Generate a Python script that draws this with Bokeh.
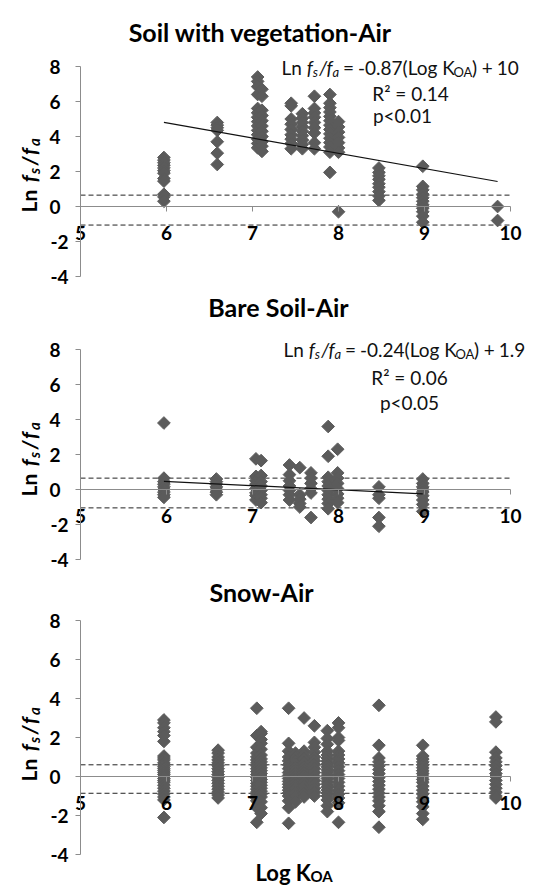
import math
from bokeh.plotting import figure
from bokeh.layouts import column
from bokeh.models import Range1d, Label, FixedTicker, CustomJSTickFormatter
from bokeh.core.properties import value
from bokeh.embed import file_html
from bokeh.resources import INLINE

# ---------------- data ----------------
x_ticks = [5, 6, 7, 8, 9, 10]
y_ticks = [-4, -2, 0, 2, 4, 6, 8]

titles = ["Soil with vegetation-Air", "Bare Soil-Air", "Snow-Air"]

# Soil with vegetation - Air
veg_x = [5.97, 6.59, 7.06, 7.11, 7.45, 7.58, 7.72, 7.90, 8.00, 8.47, 8.98, 9.85]
veg_y = [
    [2.8, 2.65, 2.5, 2.35, 2.2, 2.05, 1.9, 1.6, 1.45, 0.7, 0.55, 0.3],
    [4.8, 4.65, 4.5, 4.35, 3.7, 3.05, 2.4],
    [7.4, 7.15, 6.85, 6.4, 5.6, 5.35, 5.1, 4.85, 4.6, 4.35, 4.1, 3.85, 3.6, 3.35],
    [6.7, 6.3, 5.5, 5.2, 4.9, 4.6, 4.3, 4.0, 3.7, 3.45, 3.15],
    [5.9, 5.75, 5.0, 4.7, 4.4, 4.1, 3.85, 3.6, 3.3],
    [5.3, 5.05, 4.8, 4.55, 4.3, 4.05, 3.8, 3.55, 3.3],
    [6.3, 5.6, 5.35, 5.1, 4.8, 4.5, 4.2, 3.65, 3.3],
    [6.4, 5.9, 5.65, 5.4, 5.15, 4.9, 4.65, 4.4, 4.15, 3.9, 3.65, 3.4, 3.1, 1.95],
    [4.85, 4.55, 4.25, 3.95, 3.65, 3.35, 3.1, -0.3],
    [2.2, 1.95, 1.75, 1.55, 1.3, 1.1, 0.85, 0.6, 0.35],
    [2.3, 1.15, 0.95, 0.7, 0.5, 0.3, 0.1, -0.1, -0.3, -0.55, -0.9],
    [0.0, -0.8],
]

# Bare soil - Air
bare_x = [5.97, 6.58, 7.04, 7.10, 7.43, 7.55, 7.68, 7.88, 7.99, 8.47, 8.98]
bare_y = [
    [3.8, 0.65, 0.45, 0.3, 0.15, 0.0, -0.15, -0.3, -0.45],
    [0.6, 0.45, 0.3, 0.15, 0.0, -0.15, -0.3],
    [1.75, 0.75, 0.5, 0.3, 0.05, -0.2, -0.35, -0.6],
    [1.65, 0.8, 0.45, 0.2, -0.05, -0.3, -0.5, -0.75],
    [1.4, 0.85, 0.5, 0.2, -0.05, -0.3, -0.6],
    [1.25, -0.3, -0.55, -0.8, -1.0],
    [0.95, 0.65, 0.35, 0.05, -0.2, -1.6],
    [3.6, 1.9, 0.7, 0.45, 0.2, -0.05, -0.3, -0.55, -0.8, -1.1],
    [2.3, 0.95, 0.65, 0.35, 0.05, -0.25, -0.5, -0.75],
    [0.15, -0.3, -0.5, -1.6, -2.1],
    [0.6, 0.35, 0.15, 0.0, -0.15, -0.35, -0.6, -0.85, -1.25],
]

# Snow - Air
snow_x = [5.97, 6.60, 7.05, 7.10, 7.42, 7.50, 7.60, 7.72, 7.87, 8.00, 8.47, 8.98, 9.83]
snow_y = [
    [2.9, 2.75, 2.5, 2.3, 2.1, 1.8, 1.05, 0.95, 0.85, 0.7, 0.6, 0.5, 0.4, 0.3, 0.2, 0.1, 0.0,
     -0.1, -0.2, -0.3, -0.45, -0.6, -0.75, -0.9, -1.05, -1.2, -2.1],
    [1.35, 1.2, 1.0, 0.85, 0.7, 0.55, 0.4, 0.25, 0.1, -0.05, -0.2, -0.35, -0.5, -0.65, -0.8, -0.95, -1.1],
    [3.5, 2.1, 1.5, 1.2, 1.0, 0.85, 0.7, 0.55, 0.4, 0.25, 0.1, -0.05, -0.2, -0.35, -0.5, -0.65,
     -0.8, -0.95, -1.1, -1.25, -1.6, -2.35],
    [2.3, 2.2, 1.9, 1.7, 1.4, 1.1, 0.9, 0.75, 0.6, 0.45, 0.3, 0.15, 0.0, -0.15, -0.3, -0.45,
     -0.6, -0.75, -0.9, -1.05, -1.3, -1.6, -1.9],
    [3.5, 1.7, 1.3, 1.0, 0.8, 0.6, 0.4, 0.2, 0.05, -0.1, -0.25, -0.4, -0.55, -0.7, -0.85, -1.0,
     -1.25, -1.6, -2.4],
    [1.2, 1.0, 0.8, 0.6, 0.45, 0.3, 0.15, 0.0, -0.15, -0.3, -0.45, -0.6, -0.8, -1.0, -1.3],
    [3.0, 1.3, 1.1, 0.9, 0.7, 0.5, 0.35, 0.2, 0.05, -0.1, -0.3, -0.5, -0.7, -0.9, -1.05],
    [2.6, 1.75, 1.5, 1.25, 1.0, 0.8, 0.6, 0.4, 0.2, 0.0, -0.2, -0.4, -0.6, -0.8, -1.0],
    [2.35, 1.95, 1.65, 1.3, 1.1, 0.95, 0.8, 0.65, 0.5, 0.35, 0.2, 0.05, -0.1, -0.25, -0.4,
     -0.55, -0.7, -0.85, -1.0, -1.2, -1.5, -1.8],
    [2.75, 2.5, 2.0, 1.85, 1.3, 1.1, 0.9, 0.7, 0.5, 0.3, 0.1, -0.1, -0.3, -0.5, -0.7, -0.9,
     -1.1, -1.35, -2.35],
    [3.65, 1.6, 0.95, 0.75, 0.55, 0.35, 0.15, -0.05, -0.25, -0.45, -0.65, -0.85, -1.05, -1.25,
     -1.5, -1.8, -2.6],
    [1.6, 1.05, 0.9, 0.75, 0.6, 0.45, 0.3, 0.15, 0.0, -0.15, -0.3, -0.5, -0.7, -0.9, -1.1,
     -1.3, -1.55, -1.9, -2.2],
    [3.05, 2.8, 1.25, 0.95, 0.75, 0.55, 0.35, 0.15, 0.0, -0.2, -0.4, -0.6, -0.8, -1.0, -1.1],
]

# regression fits (None = no fit shown)
fit_slope = [-0.87, -0.24, None]
fit_intercept = [10, 1.9, None]
fit_r2 = [0.14, 0.06, None]
fit_p = ["p<0.01", "p<0.05", None]

# horizontal dashed reference lines (upper, lower)
ref_upper = [0.65, 0.65, 0.6]
ref_lower = [-1.06, -1.05, -0.86]

# ---------------- styling / layout ----------------
FONT = "Lato"
MARK = "#5b5b5b"
AXIS = "#8c8c8c"
W = 537
AX_LEFT, AX_RIGHT = 80, 510          # window px of x=5 and x=10

CW = {' ': 0.2, 'L': 0.5, 'n': 0.56, 'f': 0.32, 's': 0.42, '/': 0.38, 'a': 0.5, '=': 0.58,
      '-': 0.36, '.': 0.24, '(': 0.3, ')': 0.3, 'o': 0.56, 'g': 0.5, 'K': 0.62, 'O': 0.76,
      'A': 0.68, '+': 0.58, 'R': 0.6, 'p': 0.56, '<': 0.58, '²': 0.38}


def tw(s, size, style):
    w = sum(CW.get(c, 0.58) for c in s) * size
    return w * (1.05 if "bold" in style else 1.0)


# figure top (window y), height, window y of the zero line, px per y unit
panels = [
    dict(y0=0, h=290, zero=206, ppy=17.5),
    dict(y0=290, h=285, zero=489, ppy=17.5),
    dict(y0=575, h=311, zero=776, ppy=19.5),
]
PPX = (AX_RIGHT - AX_LEFT) / (x_ticks[-1] - x_ticks[0])


def to_data(pn, wx, wy):
    return x_ticks[0] + (wx - AX_LEFT) / PPX, (pn["zero"] - wy) / pn["ppy"]


def label(p, pn, text, wx, wy, size, style="normal", align="left", baseline="alphabetic",
          angle=0.0, color="#111111"):
    x, y = to_data(pn, wx, wy)
    p.add_layout(Label(x=x, y=y, text=text, text_font=FONT, text_font_size=f"{size}px",
                       text_font_style=style, text_align=align, text_baseline=baseline,
                       angle=angle, text_color=color))


def rich(p, pn, pieces, wx, wy, angle=0.0, color="#111111"):
    # pieces: (text, size, style, baseline shift, gap before)
    for text, size, style, shift, gap in pieces:
        if angle == 0:
            wx += gap
            label(p, pn, text, wx, wy + shift, size, style, angle=0.0, color=color)
            wx += tw(text, size, style)
        else:
            wy -= gap
            label(p, pn, text, wx + shift, wy, size, style, angle=angle, color=color)
            wy -= tw(text, size, style)


all_x = [veg_x, bare_x, snow_x]
all_y = [veg_y, bare_y, snow_y]

title_pos = [(260, 31), (278, 306), (261, 591)]
ylab_start = [212, 496, 781]
eq_pos = [(281, 67), (283, 349)]
r2_pos = [(410, 93), (409, 377)]
p_pos = [(402, 115), (409, 402)]

figs = []
for i, pn in enumerate(panels):
    x0r, y1r = to_data(pn, 0, pn["y0"])
    x1r, y0r = to_data(pn, W, pn["y0"] + pn["h"])
    p = figure(width=W, height=pn["h"], output_backend="svg", toolbar_location=None,
               x_range=Range1d(x0r, x1r), y_range=Range1d(y0r, y1r),
               min_border=0, min_border_left=0, min_border_right=0,
               min_border_top=0, min_border_bottom=0)
    p.outline_line_color = None
    p.xgrid.visible = False
    p.ygrid.visible = False
    p.background_fill_color = "white"
    p.border_fill_color = "white"

    # axes
    for ax in (p.xaxis, p.yaxis):
        ax.axis_line_color = AXIS
        ax.major_tick_line_color = AXIS
        ax.minor_tick_line_color = None
        ax.major_tick_in = 0
        ax.major_tick_out = 5
        ax.major_label_text_font = FONT
        ax.major_label_text_font_style = "bold"
        ax.major_label_text_font_size = "19px"
        ax.major_label_text_color = "#000000"
    p.xaxis.ticker = FixedTicker(ticks=x_ticks)
    p.yaxis.ticker = FixedTicker(ticks=y_ticks)
    p.xaxis.fixed_location = 0
    p.yaxis.fixed_location = x_ticks[0]
    p.xaxis.bounds = (x_ticks[0], x_ticks[-1])
    p.yaxis.bounds = (y_ticks[0], y_ticks[-1])
    p.xaxis.major_label_standoff = 14
    # y tick labels are drawn as text next to the ticks (negative labels sit a bit further right)
    p.yaxis.formatter = CustomJSTickFormatter(code="return ''")
    p.text(x=[x_ticks[0]] * len(y_ticks), y=y_ticks, text=[str(t) for t in y_ticks],
           x_offset=[-12 if t < 0 else -20 for t in y_ticks],
           text_align="right", text_baseline="middle",
           text_font=value(FONT), text_font_style="bold", text_font_size="19px",
           text_color="#000000")

    # dashed reference lines
    for yv in (ref_upper[i], ref_lower[i]):
        p.line([x_ticks[0], x_ticks[-1]], [yv, yv], line_color="#222222",
               line_width=1, line_dash="5 3")

    xs, ys = [], []
    for xv, col in zip(all_x[i], all_y[i]):
        for yv in col:
            xs.append(xv)
            ys.append(yv)
    p.scatter(xs, ys, marker="square", size=9, angle=math.pi / 4,
              fill_color=MARK, line_color=MARK)

    if fit_slope[i] is not None:
        xa, xb = min(all_x[i]), max(all_x[i])
        m, b = fit_slope[i], fit_intercept[i]
        p.line([xa, xb], [m * xa + b, m * xb + b], line_color="#111111", line_width=1.2)
        S, s = 19, 13
        eq = [("Ln", S, "normal", 0, 0), ("f", S, "italic", 0, 5), ("s", s, "italic", 4, 0),
              ("/", S, "italic", 0, 1), ("f", S, "italic", 0, 0), ("a", s, "italic", 4, 0),
              ("=", S, "normal", 0, 4), (f"{m:g}(Log K", S, "normal", 0, 4),
              ("OA", s, "normal", 4, 0), (")", S, "normal", 0, 0),
              ("+", S, "normal", 0, 4), (f"{b:g}", S, "normal", 0, 4)]
        rich(p, pn, eq, eq_pos[i][0], eq_pos[i][1])
        label(p, pn, f"R² = {fit_r2[i]:.2f}", r2_pos[i][0], r2_pos[i][1], S, align="center")
        label(p, pn, fit_p[i], p_pos[i][0], p_pos[i][1], S, align="center")

    # title
    label(p, pn, titles[i], title_pos[i][0], title_pos[i][1], 25, "bold", align="center",
          baseline="middle", color="#000000")

    # y axis label
    yl = [("Ln", 21, "bold", 0, 0), ("f", 21, "bold italic", 0, 7), ("s", 15, "bold italic", 5, 1),
          ("/", 21, "bold italic", 0, 2), ("f", 21, "bold italic", 0, 2), ("a", 15, "bold italic", 5, 2)]
    rich(p, pn, yl, 28, ylab_start[i], angle=math.pi / 2, color="#000000")

    if i == 2:
        rich(p, pn, [("Log K", 22, "bold", 0, 0), ("OA", 15, "bold", 3, 0)], 255, 872,
             color="#000000")

    figs.append(p)

layout = column(*figs, spacing=0)
open("out.html", "w").write(file_html(layout, INLINE))
